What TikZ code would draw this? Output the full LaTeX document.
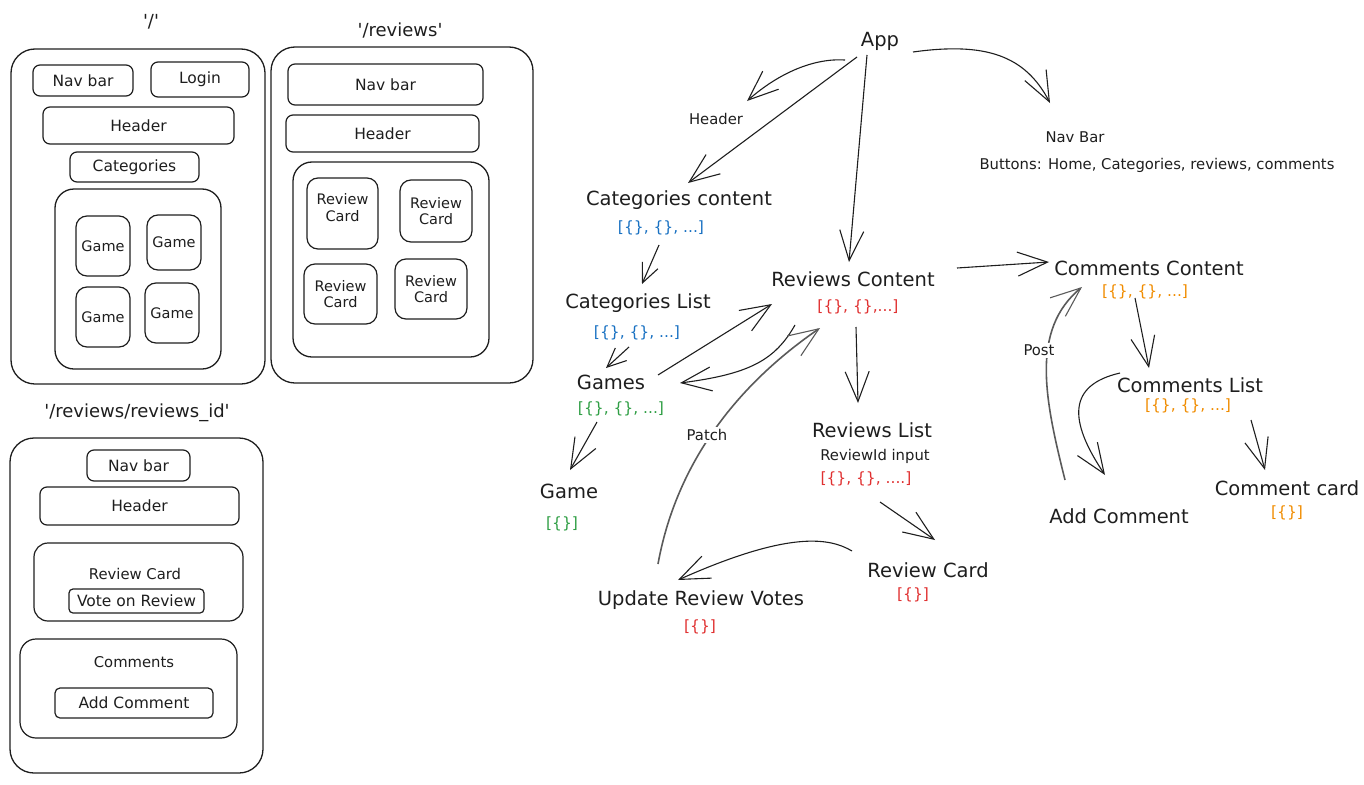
\documentclass[tikz,border=0pt]{standalone}
\usepackage{fontspec}
\setmainfont{DejaVu Sans}
\usetikzlibrary{arrows.meta}
\definecolor{ink}{HTML}{1E1E1E}
\definecolor{exblue}{HTML}{1971C2}
\definecolor{exgreen}{HTML}{2F9E44}
\definecolor{exred}{HTML}{E03131}
\definecolor{exorange}{HTML}{F08C00}
\definecolor{faded}{HTML}{5A5A5A}

\tikzset{
  big/.style={font=\fontsize{19.5}{23}\selectfont, text=ink, inner sep=1pt},
  small/.style={font=\fontsize{14.8}{17}\selectfont, text=ink, inner sep=1pt},
  title/.style={font=\fontsize{18}{21}\selectfont, text=ink, inner sep=1pt},
  datalist/.style={font=\fontsize{15.5}{18}\selectfont, inner sep=1pt},
  frame/.style={draw=ink, line width=1.3pt, rounded corners=24pt, inner sep=0pt},
  holder/.style={draw=ink, line width=1.3pt, rounded corners=19pt, inner sep=0pt},
  box/.style={draw=ink, line width=1.2pt, rounded corners=7pt, inner sep=0pt,
    font=\fontsize{15.5}{18}\selectfont, text=ink},
  card/.style={box, rounded corners=11pt, align=center,
    font=\fontsize{14.5}{16.5}\selectfont},
  flow/.style={draw=ink, line width=1.1pt,
    -{Straight Barb[length=30pt,width=24pt,line width=1.1pt]}},
  flowsmall/.style={draw=ink, line width=1.1pt,
    -{Straight Barb[length=19pt,width=17pt,line width=1.1pt]}},
  flowgray/.style={flow, draw=faded, line width=1.6pt},
  cut/.style={fill=white, inner sep=2pt}
}
\newcommand\sq{\textquotesingle}

\begin{document}
\begin{tikzpicture}[x=1pt,y=-1pt]
\useasboundingbox (0,0) rectangle (1364,784);

% ---------- page: '/' ----------
\node[title] (t1) at (151,22) {\sq/\sq};
\node[frame, minimum width=254pt, minimum height=335pt] (home) at (138,216.5) {};
\node[box, minimum width=100pt, minimum height=31pt] (h-nav) at (83,80.5) {Nav bar};
\node[box, minimum width=98pt, minimum height=35pt] (h-login) at (200,79.5) {Login};
\node[box, minimum width=191pt, minimum height=37pt] (h-head) at (138.5,125.5) {Header};
\node[box, minimum width=129pt, minimum height=30pt] (h-cat) at (134.5,167) {Categories};
\node[holder, minimum width=166pt, minimum height=180pt] (h-grid) at (138,279) {};
\node[card, minimum width=54pt, minimum height=60pt] (h-g1) at (103,246) {Game};
\node[card, minimum width=54pt, minimum height=55pt] (h-g2) at (174,242.5) {Game};
\node[card, minimum width=54pt, minimum height=60pt] (h-g3) at (103,317) {Game};
\node[card, minimum width=54pt, minimum height=60pt] (h-g4) at (172,313) {Game};

% ---------- page: '/reviews' ----------
\node[title] (t2) at (400,30) {\sq/reviews\sq};
\node[frame, minimum width=262pt, minimum height=336pt] (rev) at (402,215) {};
\node[box, minimum width=195pt, minimum height=41pt] (r-nav) at (385.5,84.5) {Nav bar};
\node[box, minimum width=193pt, minimum height=37pt] (r-head) at (382.5,133.5) {Header};
\node[holder, minimum width=196pt, minimum height=195pt] (r-grid) at (391,259.5) {};
\node[card, minimum width=71pt, minimum height=71pt, text depth=12pt] (r-c1) at (342.5,213.5) {Review\\Card};
\node[card, minimum width=72pt, minimum height=62pt] (r-c2) at (436,211) {Review\\Card};
\node[card, minimum width=73pt, minimum height=60pt] (r-c3) at (340.5,294) {Review\\Card};
\node[card, minimum width=72pt, minimum height=60pt] (r-c4) at (431,289) {Review\\Card};

% ---------- page: '/reviews/reviews_id' ----------
\node[title] (t3) at (137,413) {\sq/reviews/reviews\_id\sq};
\node[frame, minimum width=253pt, minimum height=335pt] (one) at (136.5,605.5) {};
\node[box, minimum width=103pt, minimum height=31pt] (o-nav) at (138.5,465.5) {Nav bar};
\node[box, minimum width=199pt, minimum height=38pt] (o-head) at (139.5,506) {Header};
\node[box, rounded corners=14pt, minimum width=209pt, minimum height=78pt] (o-card) at (138.5,582) {};
\node[small] (o-cardlbl) at (135,574) {Review Card};
\node[box, rounded corners=4pt, minimum width=135pt, minimum height=24pt] (o-vote) at (136.5,601) {Vote on Review};
\node[box, rounded corners=16pt, minimum width=217pt, minimum height=99pt] (o-com) at (128.5,688.5) {};
\node[small] (o-comlbl) at (134,662) {Comments};
\node[box, rounded corners=5pt, minimum width=158pt, minimum height=30pt] (o-add) at (134,703) {Add Comment};

% ---------- component tree ----------
\node[big] (app) at (880,41) {App};
\node[small] (hdr) at (716,119) {Header};
\node[small] (navl) at (1075,137) {Nav Bar};
\node[small] (btns) at (1157,165) {Buttons: Home, Categories, reviews, comments};

\node[big] (catc) at (679,200) {Categories content};
\node[datalist, text=exblue] (catca) at (661,228) {[\{\}, \{\}, ...]};
\node[big] (catl) at (638,303) {Categories List};
\node[datalist, text=exblue] (catla) at (637,333) {[\{\}, \{\}, ...]};
\node[big] (games) at (611,382) {Games};
\node[datalist, text=exgreen] (gamesa) at (621,409) {[\{\}, \{\}, ...]};
\node[big] (game) at (569,491) {Game};
\node[datalist, text=exgreen] (gamea) at (562,524) {[\{\}]};

\node[big] (revc) at (853,279) {Reviews Content};
\node[datalist, text=exred] (revca) at (858,307) {[\{\}, \{\},...]};
\node[big] (revl) at (872,430) {Reviews List};
\node[small] (revlid) at (875,456) {ReviewId input};
\node[datalist, text=exred] (revla) at (866,479) {[\{\}, \{\}, ....]};
\node[big] (revcard) at (928,570) {Review Card};
\node[datalist, text=exred] (revcarda) at (913,595) {[\{\}]};
\node[big] (upd) at (701,600) {Update Review Votes};
\node[datalist, text=exred] (upda) at (700,627) {[\{\}]};

\node[big] (comc) at (1149,268) {Comments Content};
\node[datalist, text=exorange] (comca) at (1145,292) {[\{\}, \{\}, ...]};
\node[big] (coml) at (1190,385) {Comments List};
\node[datalist, text=exorange] (comla) at (1188,406) {[\{\}, \{\}, ...]};
\node[big] (comcard) at (1287,488) {Comment card};
\node[datalist, text=exorange] (comcarda) at (1287,513) {[\{\}]};
\node[big] (addc) at (1119,516) {Add Comment};

% connectors
\draw[flow] ([shift={(-35,19)}]app.center) .. controls (815,58) and (780,72) .. ([shift={(31,-18)}]hdr.center);
\draw[flow] ([shift={(-23,16)}]app.center) -- ([shift={(9,-17)}]catc.center);
\draw[flow] ([shift={(-13,14)}]app.center) -- ([shift={(-4,-17)}]revc.center);
\draw[flow] ([shift={(33,11)}]app.center) .. controls (985,42) and (1025,55) .. ([shift={(-25,-34)}]navl.center);

\draw[flowsmall] ([shift={(-2,17)}]catca.center) -- ([shift={(4,-19)}]catl.center);
\draw[flowsmall] ([shift={(-8,14)}]catla.center) -- ([shift={(-5,-14)}]games.center);
\draw[flow] ([shift={(47,-7)}]games.center) -- ([shift={(-81,25)}]revc.center);
\draw[flow] ([shift={(-58,46)}]revc.center) .. controls (775,360) and (750,374) .. ([shift={(69,1)}]games.center);
\draw[flow] ([shift={(-24,13)}]gamesa.center) -- ([shift={(1,-21)}]game.center);

\draw[flowgray] ([shift={(-43,-36)}]upd.center) .. controls (675,470) and (730,390) .. ([shift={(-33,49)}]revc.center);
\node[small, cut] (patch) at (707,435) {Patch};

\draw[flow] ([shift={(-2,20)}]revca.center) -- ([shift={(-14,-27)}]revl.center);
\draw[flow] ([shift={(14,23)}]revla.center) -- ([shift={(7,-30)}]revcard.center);
\draw[flow] ([shift={(-76,-19)}]revcard.center) .. controls (830,538) and (790,530) .. ([shift={(-23,-20)}]upd.center);

\draw[flow] ([shift={(104,-11)}]revc.center) -- ([shift={(-100,-6)}]comc.center);
\draw[flow] ([shift={(-10,6)}]comca.center) -- ([shift={(-41,-17)}]coml.center);
\draw[flow] ([shift={(-70,-12)}]coml.center) .. controls (1068,385) and (1068,420) .. ([shift={(-14,-41)}]addc.center);
\draw[flowgray] ([shift={(-54,-36)}]addc.center) .. controls (1045,400) and (1030,330) .. ([shift={(-63,-5)}]comca.center);
\node[small, cut] (post) at (1039,350) {Post};
\draw[flow] ([shift={(63,14)}]comla.center) -- ([shift={(-22,-18)}]comcard.center);

\end{tikzpicture}
\end{document}
